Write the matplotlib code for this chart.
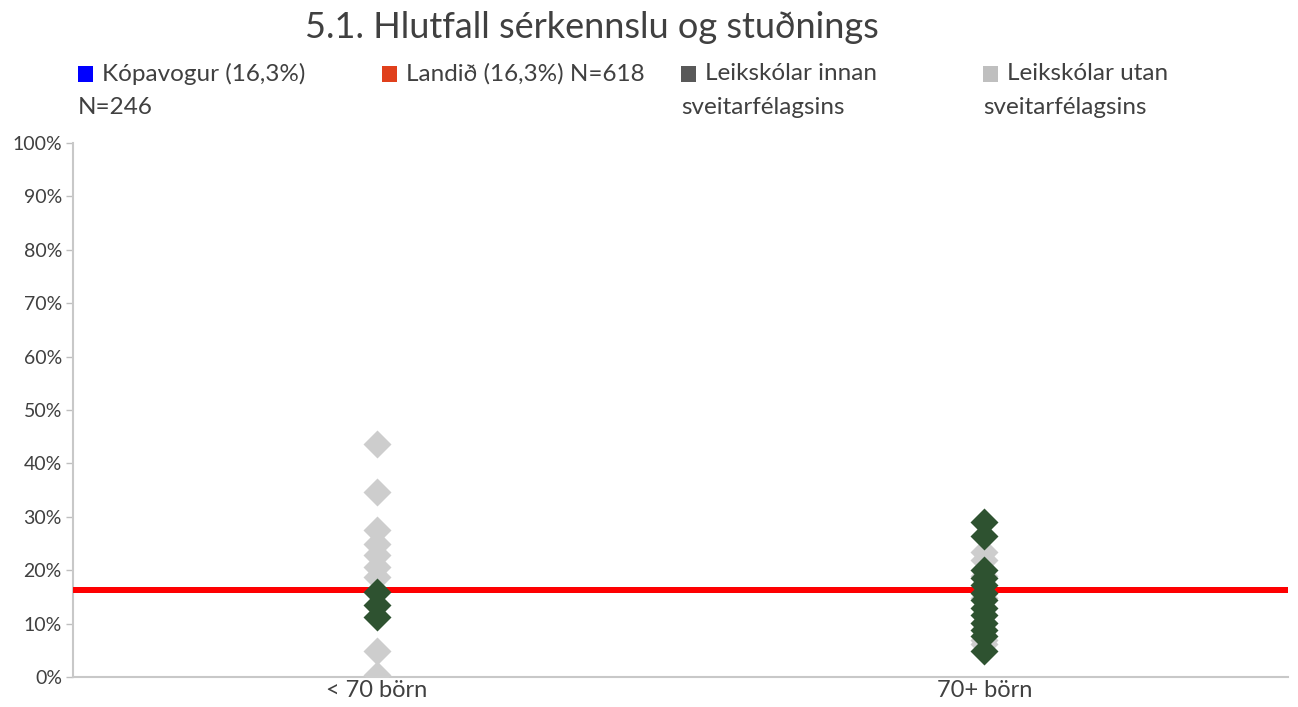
import matplotlib
matplotlib.use("Agg")
import matplotlib.pyplot as plt
from matplotlib.patches import Rectangle

plt.rcParams['font.family'] = ['Lato', 'DejaVu Sans']

categories = ["< 70 börn", "70+ börn"]

# Share of children receiving special education/support, per preschool
outside_small = [43.6, 34.6, 27.5, 25.0, 22.8, 20.6, 18.7, 4.8, 0.3]
inside_small = [16.0, 13.5, 11.3]
outside_large = [23.5, 22.0, 19.0, 14.8, 10.2, 7.0, 6.2]
inside_large = [29.0, 26.4, 20.0, 18.6, 17.2, 15.8, 14.4, 13.0, 11.6, 10.2, 8.8, 7.6, 4.8]

kopavogur_avg = 16.3
national_avg = 16.3

legend_labels = ["Kópavogur (16,3%)\nN=246", "Landið (16,3%) N=618",
                 "Leikskólar innan\nsveitarfélagsins", "Leikskólar utan\nsveitarfélagsins"]
legend_colors = ["#0000ff", "#e0401c", "#595959", "#bfbfbf"]
yticks = [0, 10, 20, 30, 40, 50, 60, 70, 80, 90, 100]

text_color = "#404040"
gray = "#cdcdcd"
green = "#2e5230"

fig = plt.figure(figsize=(12.98, 7.07), dpi=100)
ax = fig.add_axes([73 / 1298, 1 - 677 / 707, (1288 - 73) / 1298, (677 - 143) / 707])

ax.axhline(kopavogur_avg, color="#0000ff", lw=4.3, zorder=2)
ax.axhline(national_avg, color="#ff0000", lw=4.3, zorder=3)

for i, (outs, ins) in enumerate([(outside_small, inside_small), (outside_large, inside_large)]):
    ax.plot([i] * len(outs), outs, ls="none", marker="D", ms=14, color=gray, mec="none", zorder=4)
    ax.plot([i] * len(ins), ins, ls="none", marker="D", ms=14, color=green, mec="none", zorder=5)

ax.set_xlim(-0.5, 1.5)
ax.set_ylim(0, 100)
ax.set_xticks([0, 1])
ax.set_xticklabels(categories, fontsize=17, color=text_color)
ax.set_yticks(yticks)
ax.set_yticklabels([f"{v}%" for v in yticks], fontsize=14, color=text_color)
ax.tick_params(axis="x", length=0, pad=2)
ax.tick_params(axis="y", length=5, width=1, color="#bfbfbf", pad=3)
for side in ["top", "right"]:
    ax.spines[side].set_visible(False)
for side in ["left", "bottom"]:
    ax.spines[side].set_color("#c8c8c8")
    ax.spines[side].set_linewidth(1.5)
ax.set_facecolor("none")

fig.text(592 / 1298, 1 - 28 / 707, "5.1. Hlutfall sérkennslu og stuðnings",
         ha="center", va="center", fontsize=26, color=text_color)

legend_x = [78, 382, 681, 983]
for x, label, color in zip(legend_x, legend_labels, legend_colors):
    fig.patches.append(Rectangle((x / 1298, 1 - 82 / 707), 15 / 1298, 16 / 707,
                                 transform=fig.transFigure, facecolor=color, edgecolor="none"))
    lines = label.split("\n")
    fig.text((x + 24) / 1298, 1 - 74 / 707, lines[0], ha="left", va="center",
             fontsize=17.5, color=text_color)
    if len(lines) > 1:
        fig.text(x / 1298, 1 - 107 / 707, lines[1], ha="left", va="center",
                 fontsize=17.5, color=text_color)

fig.savefig("out.png", dpi=100)
